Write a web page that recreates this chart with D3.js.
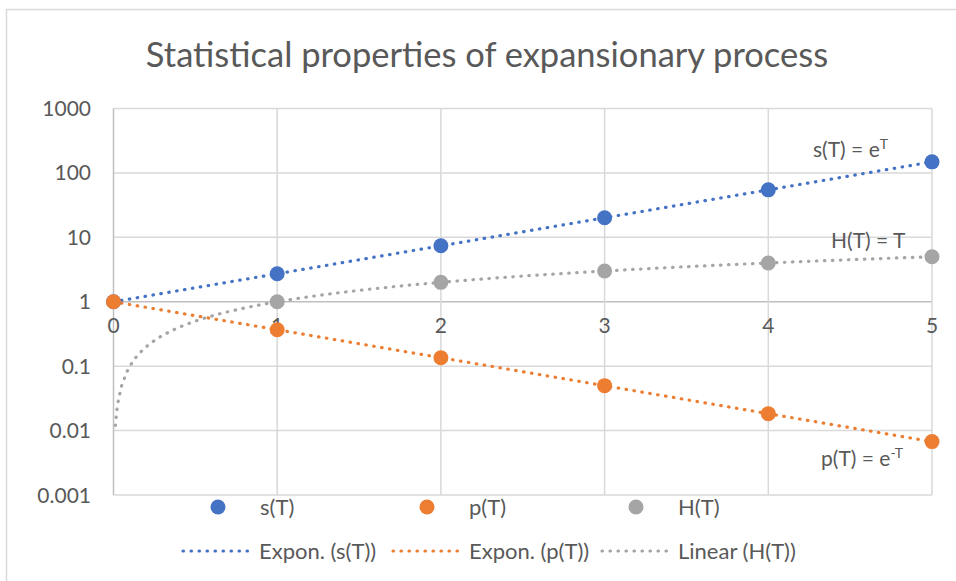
<html>
<head>
<meta charset="utf-8">
<title>Statistical properties of expansionary process</title>
<script src="https://cdn.jsdelivr.net/npm/d3@7"></script>
<style>
  body { margin: 0; background: #fff; }
  text { font-family: Lato, "Open Sans", sans-serif; fill: #595959; }
</style>
</head>
<body>
<svg width="956" height="581"></svg>
<script>
'use strict';

// data
const T = [0, 1, 2, 3, 4, 5];
const sVals = [1, 2.718, 7.389, 20.09, 54.6, 148.4];
const pVals = [1, 0.368, 0.135, 0.0498, 0.0183, 0.00674];
const hVals = [0, 1, 2, 3, 4, 5];
const yTicks = [0.001, 0.01, 0.1, 1, 10, 100, 1000];
const xTicks = [0, 1, 2, 3, 4, 5];
const blue = '#4472C4', orange = '#ED7D31', gray = '#A5A5A5';

const svg = d3.select('svg');

// chart area border
svg.append('rect').attr('x', 6.5).attr('y', 9.5).attr('width', 960).attr('height', 600)
  .attr('fill', 'none').attr('stroke', '#d9d9d9').attr('stroke-width', 1.5);

const x = d3.scaleLinear().domain([0, 5]).range([113.5, 932]);
const y = d3.scaleLog().domain([0.001, 1000]).range([495, 108.5]);

// title
svg.append('text').attr('x', 487).attr('y', 67).attr('text-anchor', 'middle')
  .style('font-size', '34.5px').text('Statistical properties of expansionary process');

// gridlines
svg.append('g').selectAll('line').data(yTicks).join('line')
  .attr('x1', x(0)).attr('x2', x(5)).attr('y1', d => y(d)).attr('y2', d => y(d))
  .attr('stroke', d => d === 1 ? '#bfbfbf' : '#d9d9d9').attr('stroke-width', 1.5);
svg.append('g').selectAll('line').data(xTicks).join('line')
  .attr('x1', d => x(d)).attr('x2', d => x(d)).attr('y1', y(1000)).attr('y2', y(0.001))
  .attr('stroke', d => d === 0 ? '#bfbfbf' : '#d9d9d9').attr('stroke-width', 1.5);

// tick labels
svg.append('g').selectAll('text').data(yTicks).join('text')
  .attr('x', 91).attr('y', d => y(d) + 7.5).attr('text-anchor', 'end')
  .style('font-size', '21px').text(d => String(d));
svg.append('g').selectAll('text').data(xTicks).join('text')
  .attr('x', d => x(d)).attr('y', y(1) + 31).attr('text-anchor', 'middle')
  .style('font-size', '21px').text(d => d);

// trendlines fitted from the data
function expFit(xs, ys) {
  const ly = ys.map(Math.log);
  const mx = d3.mean(xs), my = d3.mean(ly);
  const b = d3.sum(xs, (v, i) => (v - mx) * (ly[i] - my)) / d3.sum(xs, v => (v - mx) * (v - mx));
  const a = Math.exp(my - b * mx);
  return t => a * Math.exp(b * t);
}
function linFit(xs, ys) {
  const mx = d3.mean(xs), my = d3.mean(ys);
  const b = d3.sum(xs, (v, i) => (v - mx) * (ys[i] - my)) / d3.sum(xs, v => (v - mx) * (v - mx));
  const a = my - b * mx;
  return t => a + b * t;
}
const sFit = expFit(T, sVals), pFit = expFit(T, pVals), hFit = linFit(T, hVals);
const samples = d3.range(0, 5.0001, 0.02);
const hSamples = [0.012, 0.015, 0.02, 0.03, 0.05, 0.08].concat(d3.range(0.1, 5.0001, 0.02));
const line = d3.line().x(d => x(d[0])).y(d => y(d[1]));
function trend(pts, color) {
  svg.append('path').attr('d', line(pts)).attr('fill', 'none').attr('stroke', color)
    .attr('stroke-width', 3.2).attr('stroke-linecap', 'round').attr('stroke-dasharray', '0.5 7.5');
}
trend(samples.map(t => [t, sFit(t)]), blue);
trend(samples.map(t => [t, pFit(t)]), orange);
trend(hSamples.map(t => [t, hFit(t)]), gray);

// markers
function markers(vals, color) {
  svg.append('g').selectAll('circle').data(T.map((t, i) => [t, vals[i]]).filter(d => d[1] > 0))
    .join('circle').attr('cx', d => x(d[0])).attr('cy', d => y(d[1])).attr('r', 7.5).attr('fill', color);
}
markers(sVals, blue);
markers(hVals, gray);
markers(pVals, orange);

// equation labels
function eqLabel(xp, yp, base, sup) {
  const t = svg.append('text').attr('x', xp).attr('y', yp).style('font-size', '21px');
  t.append('tspan').text(base);
  if (sup) t.append('tspan').attr('dy', -8).style('font-size', '14px').text(sup);
}
eqLabel(813, 157, 's(T) = e', 'T');
eqLabel(831, 248, 'H(T) = T');
eqLabel(821, 466, 'p(T) = e', '-T');

// legend
const legendMarkers = [[218, blue, 's(T)'], [427, orange, 'p(T)'], [636, gray, 'H(T)']];
legendMarkers.forEach(d => {
  svg.append('circle').attr('cx', d[0]).attr('cy', 507).attr('r', 7.5).attr('fill', d[1]);
  svg.append('text').attr('x', d[0] + 42).attr('y', 514.5).style('font-size', '22px').text(d[2]);
});
const legendLines = [[182, blue, 'Expon. (s(T))'], [392, orange, 'Expon. (p(T))'], [601, gray, 'Linear (H(T))']];
legendLines.forEach(d => {
  svg.append('line').attr('x1', d[0] + 1).attr('x2', d[0] + 70).attr('y1', 551).attr('y2', 551)
    .attr('stroke', d[1]).attr('stroke-width', 3.2).attr('stroke-linecap', 'round').attr('stroke-dasharray', '0.5 7.5');
  svg.append('text').attr('x', d[0] + 77).attr('y', 558.5).style('font-size', '22px').text(d[2]);
});
</script>
</body>
</html>
